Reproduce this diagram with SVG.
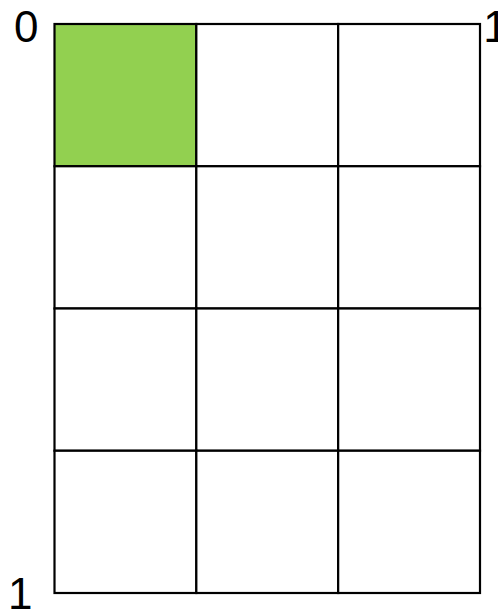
<svg xmlns="http://www.w3.org/2000/svg" width="498" height="611" viewBox="0 0 498 611">
<style>
.cell{fill:#ffffff;stroke:#000000;stroke-width:2.2}
.hl{fill:#92d050}
.lbl{font-family:"Liberation Sans",Arial,Helvetica,sans-serif;font-size:44px;fill:#000000}
</style>
<rect width="498" height="611" fill="#ffffff"/>
<g id="grid">
<rect id="cell-0-0" class="cell hl" x="54.5" y="24" width="141.83" height="142.25"/>
<rect id="cell-0-1" class="cell" x="196.33" y="24" width="141.83" height="142.25"/>
<rect id="cell-0-2" class="cell" x="338.17" y="24" width="141.83" height="142.25"/>
<rect id="cell-1-0" class="cell" x="54.5" y="166.25" width="141.83" height="142.25"/>
<rect id="cell-1-1" class="cell" x="196.33" y="166.25" width="141.83" height="142.25"/>
<rect id="cell-1-2" class="cell" x="338.17" y="166.25" width="141.83" height="142.25"/>
<rect id="cell-2-0" class="cell" x="54.5" y="308.5" width="141.83" height="142.25"/>
<rect id="cell-2-1" class="cell" x="196.33" y="308.5" width="141.83" height="142.25"/>
<rect id="cell-2-2" class="cell" x="338.17" y="308.5" width="141.83" height="142.25"/>
<rect id="cell-3-0" class="cell" x="54.5" y="450.75" width="141.83" height="142.25"/>
<rect id="cell-3-1" class="cell" x="196.33" y="450.75" width="141.83" height="142.25"/>
<rect id="cell-3-2" class="cell" x="338.17" y="450.75" width="141.83" height="142.25"/>
</g>
<g id="labels">
<text class="lbl" x="14" y="42">0</text>
<text class="lbl" x="483.2" y="42">1</text>
<text class="lbl" x="7.9" y="608.5">1</text>
</g>
</svg>
